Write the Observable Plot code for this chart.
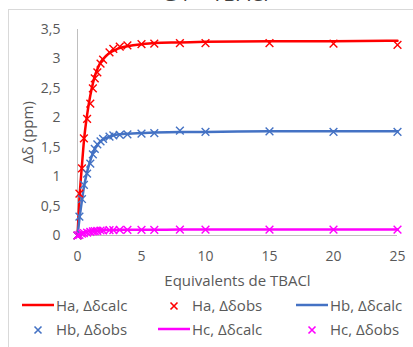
<!DOCTYPE html>
<html>
<head>
<meta charset="utf-8">
<script src="https://cdn.jsdelivr.net/npm/d3@7"></script>
<script src="https://cdn.jsdelivr.net/npm/@observablehq/plot@0.6"></script>
<style>
  body { margin:0; width:413px; height:347px; overflow:hidden; position:relative; background:#fff; font-family:"Open Sans", sans-serif; }
  #frame { position:absolute; left:8px; top:9px; width:420px; height:360px; border:1px solid #d9d9d9; box-sizing:border-box; }
  #title { position:absolute; left:0; width:430px; text-align:center; top:-21px; font-size:21px; color:#404040; white-space:nowrap; }
  #chart { position:absolute; left:0; top:0; }
  .lg { position:absolute; font-size:15px; color:#595959; white-space:nowrap; line-height:18px; }
  .sym { position:absolute; }
</style>
</head>
<body>
<div id="frame"></div>
<div id="title">G4 + TBACl</div>
<div id="chart"></div>
<div id="legend"></div>
<script>
// Equivalents of TBACl (x)
const eqObs = [0, 0.15, 0.35, 0.5, 0.75, 1.0, 1.2, 1.35, 1.55, 1.8, 2.0, 2.5, 2.8, 3.3, 3.9, 5, 6, 8, 10, 15, 20, 25];
// Observed shifts
const haObs = [0, 0.71, 1.14, 1.65, 1.98, 2.24, 2.50, 2.67, 2.77, 2.92, 2.99, 3.11, 3.17, 3.21, 3.23, 3.25, 3.26, 3.27, 3.27, 3.27, 3.26, 3.24];
const hbObs = [0, 0.32, 0.62, 0.86, 1.05, 1.22, 1.38, 1.47, 1.55, 1.60, 1.64, 1.68, 1.70, 1.71, 1.72, 1.73, 1.74, 1.78, 1.76, 1.77, 1.76, 1.76];
const hcObs = [0, 0.01, 0.03, 0.04, 0.05, 0.06, 0.07, 0.075, 0.08, 0.085, 0.085, 0.09, 0.09, 0.095, 0.095, 0.095, 0.095, 0.1, 0.1, 0.1, 0.1, 0.1];
// Calculated curves
const eqCalc = [0, 0.15, 0.35, 0.5, 0.75, 1.0, 1.2, 1.4, 1.6, 1.8, 2.0, 2.5, 3, 4, 5, 6, 8, 10, 15, 20, 25];
const haCalc = [0, 0.62, 1.2, 1.6, 2.05, 2.38, 2.58, 2.74, 2.85, 2.94, 3.0, 3.1, 3.16, 3.22, 3.25, 3.27, 3.28, 3.29, 3.3, 3.3, 3.31];
const hbCalc = [0, 0.28, 0.6, 0.82, 1.08, 1.27, 1.4, 1.49, 1.55, 1.6, 1.63, 1.68, 1.71, 1.73, 1.74, 1.75, 1.76, 1.76, 1.77, 1.77, 1.77];
const hcCalc = [0, 0.02, 0.04, 0.05, 0.065, 0.075, 0.08, 0.084, 0.087, 0.089, 0.09, 0.093, 0.095, 0.097, 0.098, 0.099, 0.1, 0.1, 0.1, 0.1, 0.1];

const xTicks = [0, 5, 10, 15, 20, 25];
const yTicks = [0, 0.5, 1, 1.5, 2, 2.5, 3, 3.5];

const series = [
  {name: "Ha", color: "#FF0000", calc: haCalc, obs: haObs},
  {name: "Hb", color: "#4472C4", calc: hbCalc, obs: hbObs},
  {name: "Hc", color: "#FF00FF", calc: hcCalc, obs: hcObs}
];

const calcRows = series.flatMap(s => eqCalc.map((x, i) => ({x, y: s.calc[i], s: s.name})));
const obsRows = series.flatMap(s => eqObs.map((x, i) => ({x, y: s.obs[i], s: s.name})));
const colorDomain = series.map(s => s.name);
const colorRange = series.map(s => s.color);

const plot = Plot.plot({
  width: 413, height: 290,
  marginLeft: 77, marginRight: 16, marginTop: 29, marginBottom: 55,
  style: {fontFamily: "'Open Sans', sans-serif", fontSize: "14px", color: "#595959", background: "transparent", overflow: "visible"},
  x: {domain: [0, 25], ticks: xTicks, tickSize: 0, tickPadding: 16, label: "Equivalents de TBACl", labelAnchor: "center", labelArrow: "none", labelOffset: 50},
  y: {domain: [0, 3.5], ticks: yTicks, tickSize: 0, tickPadding: 17, tickFormat: d => String(d).replace(".", ","), label: "Δδ (ppm)", labelAnchor: "center", labelArrow: "none", labelOffset: 55},
  color: {domain: colorDomain, range: colorRange},
  marks: [
    Plot.ruleX([0], {stroke: "#bfbfbf", strokeWidth: 1}),
    Plot.ruleY([0], {stroke: "#bfbfbf", strokeWidth: 1}),
    Plot.line(calcRows, {x: "x", y: "y", z: "s", stroke: "s", strokeWidth: 2.5, curve: "monotone-x"}),
    Plot.dot(obsRows, {x: "x", y: "y", stroke: "s", symbol: "times", r: 3.6, strokeWidth: 1.4})
  ]
});
plot.querySelectorAll("g[aria-label='x-axis label'] text, g[aria-label='y-axis label'] text").forEach(t => t.style.fontSize = "15px");
document.getElementById("chart").append(plot);

// Legend
const legendItems = [
  {label: "Ha, Δδcalc", color: "#FF0000", kind: "line", cx: 38, cy: 305},
  {label: "Ha, Δδobs", color: "#FF0000", kind: "x", cx: 174, cy: 305},
  {label: "Hb, Δδcalc", color: "#4472C4", kind: "line", cx: 312, cy: 305},
  {label: "Hb, Δδobs", color: "#4472C4", kind: "x", cx: 38, cy: 329},
  {label: "Hc, Δδcalc", color: "#FF00FF", kind: "line", cx: 174, cy: 329},
  {label: "Hc, Δδobs", color: "#FF00FF", kind: "x", cx: 312, cy: 329}
];
const lg = document.getElementById("legend");
for (const it of legendItems) {
  const svg = d3.create("svg").attr("class", "sym").attr("width", 34).attr("height", 12)
    .style("left", (it.cx - 17) + "px").style("top", (it.cy - 6) + "px");
  if (it.kind === "line") {
    svg.append("line").attr("x1", 1).attr("x2", 33).attr("y1", 6).attr("y2", 6).attr("stroke", it.color).attr("stroke-width", 2.5);
  } else {
    svg.append("path").attr("d", "M13.5,3.5L20.5,10.5M20.5,3.5L13.5,10.5").attr("stroke", it.color).attr("stroke-width", 1.6).attr("fill", "none");
  }
  lg.append(svg.node());
  const d = document.createElement("div");
  d.className = "lg";
  d.textContent = it.label;
  d.style.left = (it.cx + 18) + "px";
  d.style.top = (it.cy - 9) + "px";
  lg.append(d);
}
</script>
</body>
</html>
